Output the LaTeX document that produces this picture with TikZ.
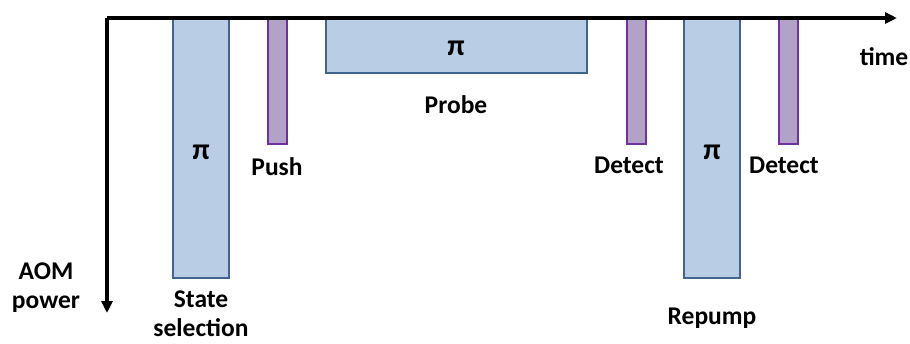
\documentclass[tikz,border=0pt]{standalone}
\usepackage{fontspec}
\setmainfont{Carlito}
\usetikzlibrary{arrows.meta}
\definecolor{bluefill}{HTML}{B9CDE5}
\definecolor{blueline}{HTML}{41658F}
\definecolor{purpfill}{HTML}{B3A2C7}
\definecolor{purpline}{HTML}{7030A0}
\begin{document}
\begin{tikzpicture}[x=1pt,y=-1pt,
  bluebox/.style={draw=blueline,fill=bluefill,line width=1.8pt},
  purpbox/.style={draw=purpline,fill=purpfill,line width=1.8pt},
  lbl/.style={font=\fontsize{25.5}{29}\selectfont\bfseries,inner sep=0pt,align=center},
  pilbl/.style={font=\fontsize{30}{34}\selectfont\bfseries,inner sep=0pt},
  axis/.style={line width=3.2pt,-{Triangle[length=12pt,width=11pt]}}]
\useasboundingbox (0,0) rectangle (910,343);
% boxes
\draw[bluebox] (173,19) rectangle (229,278);
\draw[purpbox] (268,19) rectangle (287,144);
\draw[bluebox] (326,19) rectangle (587,73);
\draw[purpbox] (627,19) rectangle (646,144);
\draw[bluebox] (684,19) rectangle (740,278);
\draw[purpbox] (779,19) rectangle (798,144);
% axes
\coordinate (o) at (107,18);
\coordinate (xend) at (897,18);
\coordinate (yend) at (107,313);
\draw[axis] (o) -- (xend);
\draw[axis] (o) -- (yend);
% labels
\node[pilbl] (pi1) at (201,152) {π};
\node[pilbl] (pi2) at (456,48) {π};
\node[pilbl] (pi3) at (712,152) {π};
\node[lbl] (push) at (277,167) {Push};
\node[lbl] (probe) at (456,105) {Probe};
\node[lbl] (det1) at (629,165) {Detect};
\node[lbl] (det2) at (784,165) {Detect};
\node[lbl] (rep) at (712,318) {Repump};
\node[lbl] (time) at (884,57) {time};
\node[lbl] (state) at (201,314) {State\\selection};
\node[lbl] (aom) at (46,288) {AOM\\power};
\end{tikzpicture}
\end{document}
